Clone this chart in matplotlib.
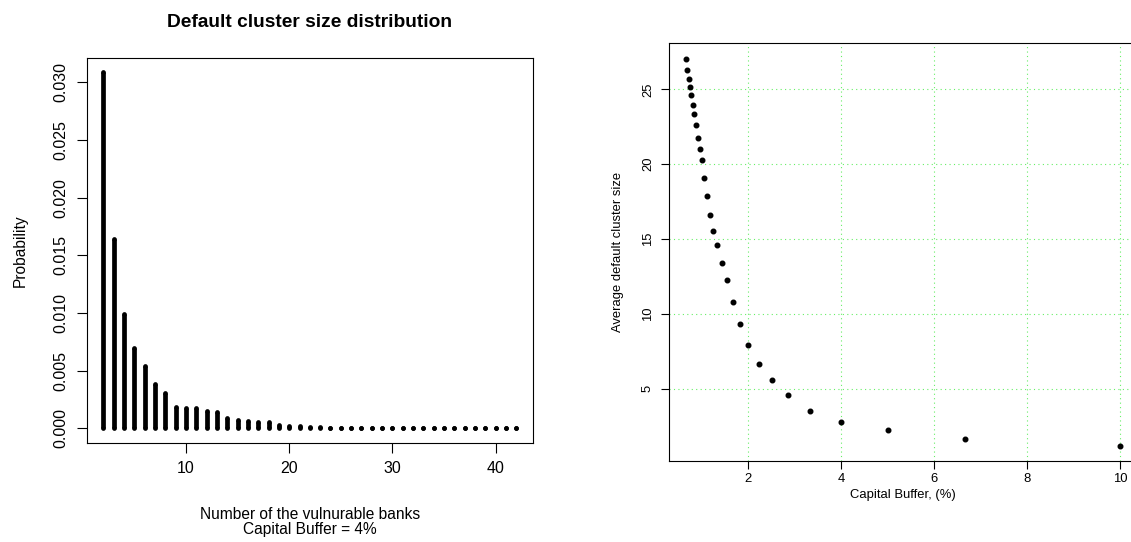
import numpy as np
import matplotlib
matplotlib.use('Agg')
import matplotlib.pyplot as plt

plt.rcParams['font.family'] = ['Liberation Sans', 'DejaVu Sans']

# left panel: probability of a default cluster of each size
cluster_size = list(range(2, 43))
probability = [0.0309, 0.0164, 0.00995, 0.00694, 0.00538, 0.00385, 0.00307,
               0.00186, 0.00180, 0.00174, 0.00154, 0.00139, 0.00087, 0.00073,
               0.00067, 0.00058, 0.00052, 0.00030, 0.00020, 0.00025, 0.00015,
               0.00012, 0.00008, 0.00005, 0.00004, 0.00004, 0.00003, 0.00003,
               0.00003, 0.00002, 0.00002, 0.00002, 0.00002, 0.00002, 0.00002,
               0.00001, 0.00001, 0.00001, 0.00001, 0.00001, 0.00001]

# right panel: average default cluster size vs capital buffer
capital_buffer = [0.667, 0.690, 0.714, 0.741, 0.769, 0.800, 0.833, 0.870,
                  0.909, 0.952, 1.000, 1.053, 1.111, 1.176, 1.250, 1.333,
                  1.429, 1.538, 1.667, 1.818, 2.000, 2.222, 2.500, 2.857,
                  3.333, 4.000, 5.000, 6.667, 10.000]
avg_cluster = [27.04, 26.27, 25.69, 25.17, 24.62, 23.95, 23.37, 22.60,
               21.73, 21.04, 20.29, 19.11, 17.91, 16.62, 15.57, 14.64,
               13.42, 12.24, 10.77, 9.31, 7.91, 6.69, 5.62, 4.57,
               3.55, 2.82, 2.24, 1.69, 1.22]


def r_range(v):
    # R style axis range, 4% padding on each side
    lo, hi = min(v), max(v)
    pad = (hi - lo) * 0.04
    return lo - pad, hi + pad


fig = plt.figure(figsize=(11.31, 5.42), dpi=100)

#########################
# left: histogram-like plot
#########################
ax1 = fig.add_axes([0.0769, 0.1832, 0.3941, 0.7103])
bar_lw = 3.4
ax1.vlines(cluster_size, 0, probability, colors='black', linewidth=bar_lw)
# round ends of the thick lines (R draws lwd lines with round caps)
ax1.plot(cluster_size, probability, 'o', color='black', markersize=bar_lw, markeredgewidth=0)
ax1.plot(cluster_size, [0] * len(cluster_size), 'o', color='black', markersize=bar_lw, markeredgewidth=0)
ax1.set_xlim(*r_range(cluster_size))
ax1.set_ylim(*r_range([0] + probability))
ax1.set_xticks([10, 20, 30, 40])
ax1.set_yticks([0.000, 0.005, 0.010, 0.015, 0.020, 0.025, 0.030])
ax1.set_yticklabels(['0.000', '0.005', '0.010', '0.015', '0.020', '0.025', '0.030'],
                    rotation=90, va='center')
ax1.tick_params(labelsize=11.5, length=7.2, width=0.8, pad=6)
for s in ax1.spines.values():
    s.set_linewidth(0.8)
ax1.set_title('Default cluster size distribution', fontsize=13.8,
              fontweight='bold', pad=22)
ax1.set_xlabel('Number of the vulnurable banks\nCapital Buffer = 4%',
               fontsize=11.2, labelpad=22, linespacing=1.0)
ax1.set_ylabel('Probability', fontsize=11.2, labelpad=19)

#########################
# right: scatter
#########################
ax2 = fig.add_axes([0.5915, 0.1494, 0.4141, 0.7707])
ax2.set_axisbelow(True)
ax2.grid(True, color='#66ee66', linestyle=(0, (1, 3)), linewidth=0.8)
ax2.plot(capital_buffer, avg_cluster, 'o', color='black', markersize=3.3)
ax2.set_xlim(*r_range(capital_buffer))
ax2.set_ylim(*r_range(avg_cluster))
ax2.set_xticks([2, 4, 6, 8, 10])
ax2.set_yticks([5, 10, 15, 20, 25])
ax2.set_yticklabels(['5', '10', '15', '20', '25'], rotation=90, va='center')
ax2.tick_params(labelsize=9.4, length=5.8, width=0.8, pad=2.5)
ax2.tick_params(axis='y', pad=5)
for s in ax2.spines.values():
    s.set_linewidth(0.8)
ax2.set_xlabel('Capital Buffer, (%)', fontsize=9.4, labelpad=3)
ax2.set_ylabel('Average default cluster size', fontsize=9.4, labelpad=13)

plt.savefig('out.png', dpi=100)
